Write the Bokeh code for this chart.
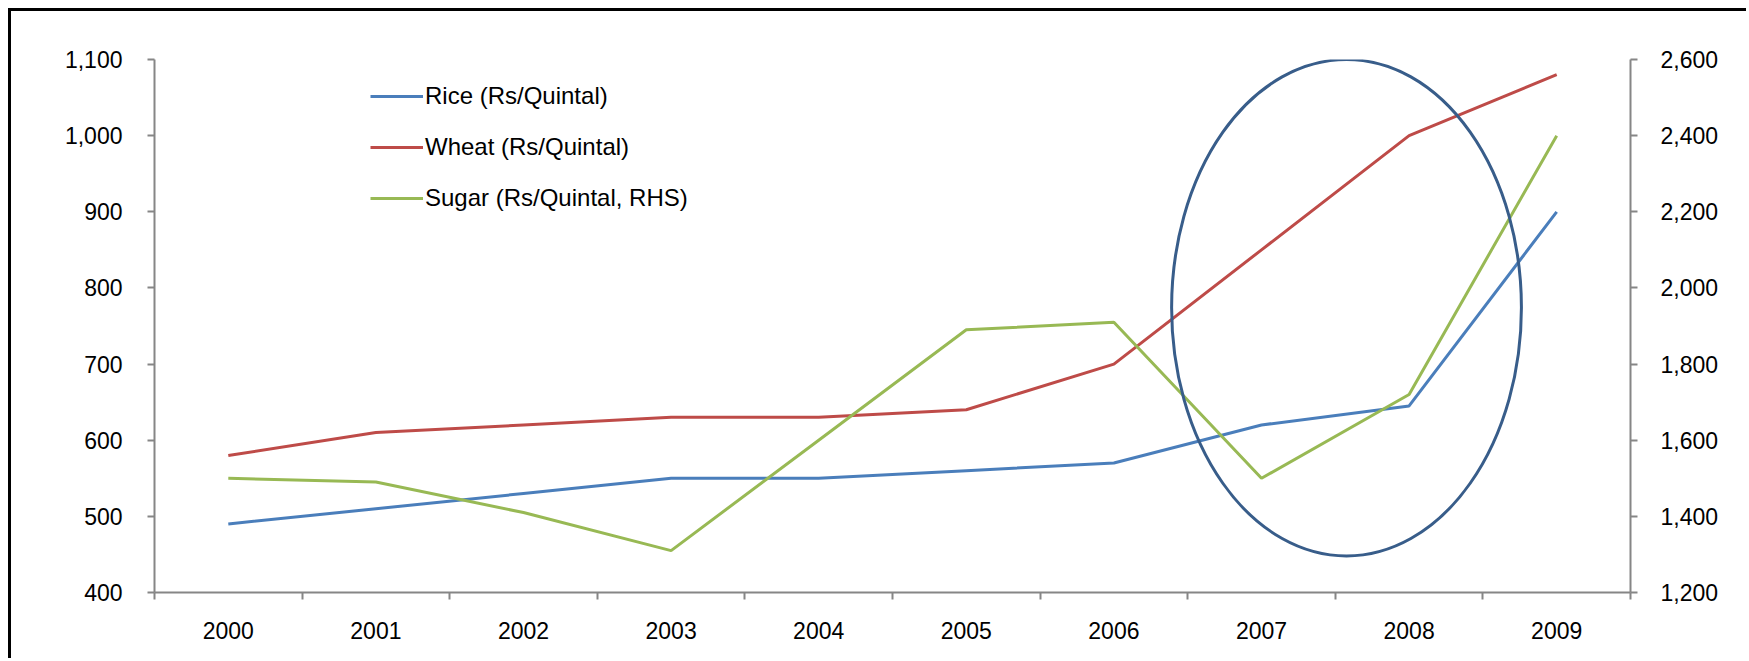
from bokeh.plotting import figure
from bokeh.models import (Range1d, LinearAxis, FixedTicker, NumeralTickFormatter,
                          Legend, LegendItem)
from bokeh.embed import file_html
from bokeh.resources import INLINE

# Annual prices, Rs per quintal
years = ["2000", "2001", "2002", "2003", "2004", "2005", "2006", "2007", "2008", "2009"]
rice = [490, 510, 530, 550, 550, 560, 570, 620, 645, 900]
wheat = [580, 610, 620, 630, 630, 640, 700, 850, 1000, 1080]
sugar = [1500, 1490, 1410, 1310, 1600, 1890, 1910, 1500, 1720, 2400]

left_ticks = [400, 500, 600, 700, 800, 900, 1000, 1100]
right_ticks = [1200, 1400, 1600, 1800, 2000, 2200, 2400, 2600]

FONT = "Liberation Sans"
AXIS_GREY = "#868686"

xpos = list(range(len(years)))

p = figure(width=1738, height=650,
           x_range=Range1d(-0.5, len(years) - 0.5),
           y_range=Range1d(left_ticks[0], left_ticks[-1]),
           output_backend="svg", toolbar_location=None,
           min_border_left=143, min_border_right=119,
           min_border_top=48, min_border_bottom=69,
           x_axis_type=None, y_axis_type=None)
p.extra_y_ranges = {"rhs": Range1d(right_ticks[0], right_ticks[-1])}
p.outline_line_color = None
p.background_fill_color = "white"
p.border_fill_color = "white"
p.styles = {"margin-left": "8px", "margin-top": "8px",
            "border-left": "3px solid black", "border-top": "3px solid black"}


def style_axis(ax):
    ax.axis_line_color = AXIS_GREY
    ax.axis_line_width = 2
    ax.major_tick_line_color = AXIS_GREY
    ax.major_tick_line_width = 2
    ax.major_tick_in = 0
    ax.major_tick_out = 7
    ax.minor_tick_line_color = None
    ax.major_label_text_font = FONT
    ax.major_label_text_font_size = "23px"
    ax.major_label_text_color = "black"


# category axis: ticks between years, labels centred on years
xaxis = LinearAxis(ticker=FixedTicker(ticks=xpos, minor_ticks=[i - 0.5 for i in range(len(years) + 1)]),
                   major_label_overrides={i: y for i, y in enumerate(years)})
style_axis(xaxis)
xaxis.major_tick_out = 0
xaxis.major_tick_line_color = None
xaxis.minor_tick_line_color = AXIS_GREY
xaxis.minor_tick_line_width = 2
xaxis.minor_tick_in = 0
xaxis.minor_tick_out = 7
xaxis.major_label_standoff = 22
p.add_layout(xaxis, "below")

yleft = LinearAxis(ticker=FixedTicker(ticks=left_ticks),
                   formatter=NumeralTickFormatter(format="0,0"))
style_axis(yleft)
yleft.major_label_standoff = 25
p.add_layout(yleft, "left")

yright = LinearAxis(y_range_name="rhs", ticker=FixedTicker(ticks=right_ticks),
                    formatter=NumeralTickFormatter(format="0,0"))
style_axis(yright)
yright.major_label_standoff = 23
p.add_layout(yright, "right")

r_rice = p.line(xpos, rice, line_color="#4A7EBB", line_width=3)
r_wheat = p.line(xpos, wheat, line_color="#BE4B48", line_width=3)
r_sugar = p.line(xpos, sugar, line_color="#98B954", line_width=3, y_range_name="rhs")

# highlight ring around the 2007-2008 jump
p.ellipse(x=[7.576], y=[774], width=[2.37], height=[652],
          fill_color=None, line_color="#385D8A", line_width=3)

legend = Legend(items=[LegendItem(label="Rice (Rs/Quintal)", renderers=[r_rice]),
                       LegendItem(label="Wheat (Rs/Quintal)", renderers=[r_wheat]),
                       LegendItem(label="Sugar (Rs/Quintal, RHS)", renderers=[r_sugar])],
                location=(216, 380), orientation="vertical",
                background_fill_alpha=0, border_line_color=None,
                padding=0, margin=0, spacing=23,
                glyph_width=53, glyph_height=24, label_height=24,
                label_standoff=2, label_text_font=FONT,
                label_text_font_size="24px", label_text_color="black")
p.add_layout(legend, "center")

open("out.html", "w").write(file_html(p, INLINE))
